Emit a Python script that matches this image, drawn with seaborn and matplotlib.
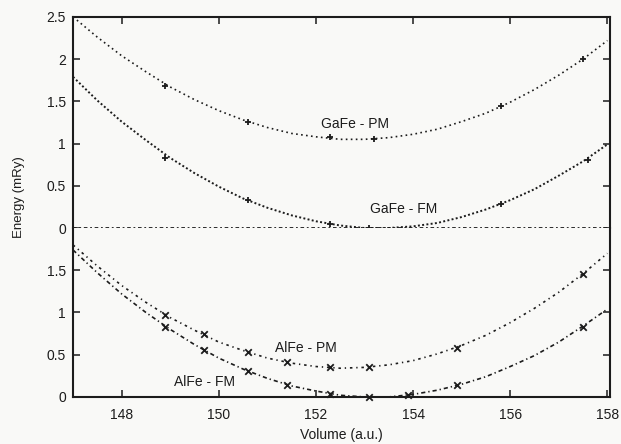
import numpy as np
import pandas as pd
import matplotlib
matplotlib.use("Agg")
import matplotlib.pyplot as plt
import seaborn as sns

# fitted curves, every 0.5 a.u.
volume = [147, 147.5, 148, 148.5, 149, 149.5, 150, 150.5, 151, 151.5, 152, 152.5,
          153, 153.5, 154, 154.5, 155, 155.5, 156, 156.5, 157, 157.5, 158]
gafe_pm_fit = [2.50, 2.26, 2.04, 1.85, 1.67, 1.52, 1.39, 1.28, 1.19, 1.12, 1.08, 1.05,
               1.05, 1.07, 1.11, 1.17, 1.26, 1.36, 1.49, 1.64, 1.81, 2.00, 2.22]
gafe_fm_fit = [1.79, 1.51, 1.26, 1.04, 0.83, 0.65, 0.49, 0.35, 0.24, 0.15, 0.08, 0.03,
               0.00, 0.00, 0.02, 0.06, 0.13, 0.22, 0.33, 0.46, 0.62, 0.79, 0.99]
alfe_pm_fit = [1.80, 1.55, 1.32, 1.12, 0.94, 0.79, 0.65, 0.55, 0.46, 0.40, 0.36, 0.34,
               0.35, 0.38, 0.43, 0.51, 0.61, 0.73, 0.88, 1.05, 1.24, 1.46, 1.70]
alfe_fm_fit = [1.74, 1.47, 1.22, 1.00, 0.80, 0.62, 0.46, 0.33, 0.22, 0.13, 0.07, 0.02,
               0.00, 0.00, 0.03, 0.08, 0.15, 0.24, 0.36, 0.49, 0.65, 0.84, 1.04]

# calculated points
gafe_pm_v = [148.9, 150.6, 152.3, 153.2, 155.8, 157.5]
gafe_pm_e = [1.68, 1.25, 1.08, 1.05, 1.45, 2.00]
gafe_fm_v = [148.9, 150.6, 152.3, 153.1, 155.8, 157.6]
gafe_fm_e = [0.83, 0.33, 0.05, 0.00, 0.28, 0.80]
alfe_pm_v = [148.9, 149.7, 150.6, 151.4, 152.3, 153.1, 154.9, 157.5]
alfe_pm_e = [0.97, 0.74, 0.53, 0.41, 0.35, 0.35, 0.58, 1.45]
alfe_fm_v = [148.9, 149.7, 150.6, 151.4, 152.3, 153.1, 153.9, 154.9, 157.5]
alfe_fm_e = [0.83, 0.55, 0.31, 0.14, 0.04, 0.00, 0.02, 0.14, 0.83]

ink = "#1c1c1c"
sns.set_theme(style="ticks", rc={"figure.facecolor": "#f9f9f7", "axes.facecolor": "#f9f9f7"})
plt.rcParams["font.family"] = ["Liberation Sans", "DejaVu Sans"]

fig, (ax_top, ax_bot) = plt.subplots(2, 1, sharex=True, figsize=(6.21, 4.44), dpi=100,
                                     gridspec_kw={"height_ratios": [2.5, 2], "hspace": 0})
fig.subplots_adjust(left=0.1176, right=0.982, top=0.962, bottom=0.106)

curves = pd.DataFrame({"V": volume, "gafe_pm": gafe_pm_fit, "gafe_fm": gafe_fm_fit,
                       "alfe_pm": alfe_pm_fit, "alfe_fm": alfe_fm_fit})

sns.lineplot(data=curves, x="V", y="gafe_pm", ax=ax_top, color=ink, lw=1.2, dashes=(1, 2))
sns.lineplot(data=curves, x="V", y="gafe_fm", ax=ax_top, color=ink, lw=1.4, dashes=(1, 1.2))
sns.scatterplot(x=gafe_pm_v, y=gafe_pm_e, ax=ax_top, marker="+", s=20, color=ink,
                linewidth=1.3, clip_on=False, zorder=4)
sns.scatterplot(x=gafe_fm_v, y=gafe_fm_e, ax=ax_top, marker="+", s=20, color=ink,
                linewidth=1.3, clip_on=False, zorder=4)
ax_top.axhline(0, color=ink, lw=1.3, dashes=(2, 1.5, 1, 1.5), clip_on=False, zorder=3)

sns.lineplot(data=curves, x="V", y="alfe_pm", ax=ax_bot, color=ink, lw=1.2, dashes=(1.5, 2.3, 0.8, 2.3))
sns.lineplot(data=curves, x="V", y="alfe_fm", ax=ax_bot, color=ink, lw=1.2, dashes=(2.5, 1.8, 0.8, 1.8))
sns.scatterplot(x=alfe_pm_v, y=alfe_pm_e, ax=ax_bot, marker="x", s=22, color=ink,
                linewidth=1.3, clip_on=False, zorder=4)
sns.scatterplot(x=alfe_fm_v, y=alfe_fm_e, ax=ax_bot, marker="x", s=22, color=ink,
                linewidth=1.3, clip_on=False, zorder=4)

ax_top.text(152.8, 1.23, "GaFe - PM", fontsize=10, color=ink, ha="center", va="center")
ax_top.text(153.8, 0.23, "GaFe - FM", fontsize=10, color=ink, ha="center", va="center")
ax_bot.text(151.8, 0.58, "AlFe - PM", fontsize=10, color=ink, ha="center", va="center")
ax_bot.text(149.7, 0.18, "AlFe - FM", fontsize=10, color=ink, ha="center", va="center")

ax_top.set_xlim(147, 158.05)
ax_top.set_ylim(0, 2.5)
ax_bot.set_ylim(0, 2)
ax_top.set_yticks([0, 0.5, 1, 1.5, 2, 2.5])
ax_top.set_yticklabels(["0", "0.5", "1", "1.5", "2", "2.5"])
ax_bot.set_yticks([0, 0.5, 1, 1.5])
ax_bot.set_yticklabels(["0", "0.5", "1", "1.5"])
ax_bot.set_xticks([148, 150, 152, 154, 156, 158])

for ax in (ax_top, ax_bot):
    ax.set_xlabel("")
    ax.set_ylabel("")
    for sp in ax.spines.values():
        sp.set_color(ink)
        sp.set_linewidth(1.5)
        sp.set_visible(True)
    ax.tick_params(direction="in", length=5, width=1.1, colors=ink, labelsize=10,
                   right=True, left=True, pad=5)
ax_top.spines["bottom"].set_visible(False)
ax_bot.spines["top"].set_visible(False)
ax_top.tick_params(axis="x", top=True, bottom=False, labelbottom=False)
ax_bot.tick_params(axis="x", top=False, bottom=True, pad=8)

ax_bot.set_xlabel("Volume (a.u.)", fontsize=10, color=ink, labelpad=4)
fig.text(0.03, 0.555, "Energy (mRy)", rotation=90, fontsize=9.5, color=ink,
         ha="center", va="center")

plt.savefig("out.png", dpi=100, facecolor=fig.get_facecolor())
